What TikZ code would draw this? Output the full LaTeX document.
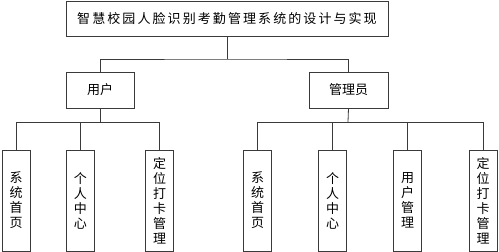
\documentclass[tikz,border=0pt]{standalone}
\usepackage{fontspec}
\setmainfont{Noto Sans CJK SC}
\usetikzlibrary{positioning}
\definecolor{orgLine}{HTML}{3A3A3A}
\tikzset{
    orgBox/.style={
        rectangle,
        draw=orgLine,
        line width=0.8pt,
        inner sep=0pt,
        font=\fontsize{13}{15}\selectfont,
        align=center
    },
    titleBox/.style={orgBox, minimum width=322pt, minimum height=35pt,
        font=\fontsize{13}{15}\selectfont\addfontfeature{LetterSpace=16}},
    roleBox/.style={orgBox, minimum height=36pt},
    leafBox/.style={orgBox, minimum width=28pt, minimum height=101pt},
    orgLink/.style={draw=orgLine, line width=0.8pt}
}

\begin{document}
\begin{tikzpicture}[x=1pt, y=-1pt]
\useasboundingbox (0,0) rectangle (499,252);

% Top level
\node[titleBox] (sys) at (227,18.5) {智慧校园人脸识别考勤管理系统的设计与实现};

% Roles
\node[roleBox, minimum width=68pt] (user) at (100,90) {用户};
\node[roleBox, minimum width=79pt] (admin) at (348.5,90) {管理员};

% Bus points
\coordinate (bus0) at (227,59);
\coordinate (ubus) at (100,122);
\coordinate (abus) at (348,122);

% Leaves of user
\foreach \i/\x/\t in {1/16/系\\统\\首\\页, 2/80.5/个\\人\\中\\心, 3/159.5/定\\位\\打\\卡\\管\\理} {
    \node[leafBox] (u\i) at (\x,200.5) {\t};
    \draw[orgLink] (ubus) -| (u\i.north);
}

% Leaves of admin
\foreach \i/\x/\t in {1/257.5/系\\统\\首\\页, 2/332.5/个\\人\\中\\心, 3/407.5/用\\户\\管\\理, 4/483/定\\位\\打\\卡\\管\\理} {
    \node[leafBox] (a\i) at (\x,200.5) {\t};
    \draw[orgLink] (abus) -| (a\i.north);
}

% Links
\draw[orgLink] (sys.south) -- (bus0);
\draw[orgLink] (user.north) |- (bus0) -| (admin.north);
\draw[orgLink] (user.south) -- (ubus);
\draw[orgLink] (admin.south) -- (abus);
\end{tikzpicture}
\end{document}
